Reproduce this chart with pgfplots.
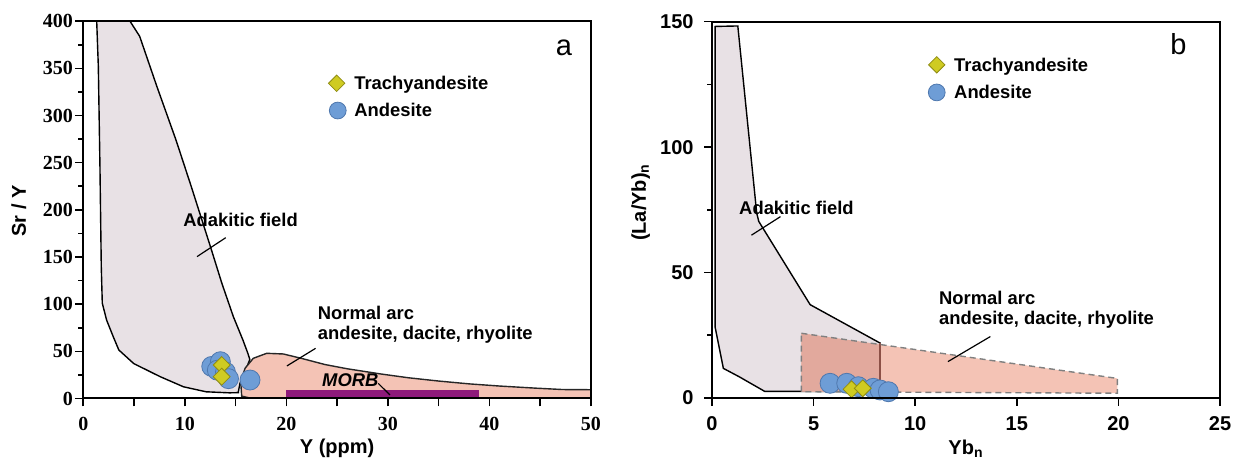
\documentclass[border=0pt]{standalone}
\usepackage{fontspec}
\setmainfont{Liberation Sans}
\newfontfamily\serifb{Liberation Serif}
\usepackage{pgfplots}
\pgfplotsset{compat=1.18}
\definecolor{adak}{HTML}{E8E1E5}
\definecolor{arc}{HTML}{F4C3B5}
\definecolor{arcdark}{HTML}{E2A99D}
\definecolor{morb}{HTML}{8E1A7B}
\definecolor{andes}{HTML}{6E9DD6}
\definecolor{andesedge}{HTML}{4F78AE}
\definecolor{trachy}{HTML}{CFCB22}
\definecolor{trachyedge}{HTML}{8F8C14}
\definecolor{brownline}{HTML}{8C5046}
\pgfplotsset{
  base/.style={
    scale only axis, anchor=south west,
    axis on top,
    axis line style={line width=1pt},
    tick style={line width=0.8pt, black},
    tick align=outside,
    major tick length=4pt, minor tick length=2.5pt,
    xtick pos=bottom, ytick pos=left,
    clip mode=individual,
    /pgf/number format/assume math mode=true,
    label style={font=\bfseries\fontsize{10}{12}\selectfont},
  },
  andpt/.style={only marks, mark=*, mark size=#1,
    mark options={fill=andes, draw=andesedge, line width=0.4pt}},
  trapt/.style={only marks, mark=square*, mark size=#1,
    mark options={rotate=45, fill=trachy, draw=trachyedge, line width=0.4pt}},
  lead/.style={black, line width=0.6pt},
}
\newcommand\lbl{\bfseries\fontsize{9.2}{10}\selectfont}
\begin{document}
\begin{tikzpicture}
\path[use as bounding box] (-41.65pt,-30.25pt) rectangle (578.85pt,199.25pt);
% ---------------- panel a ----------------
\begin{axis}[base, at={(0pt,0pt)},
  width=253.85pt, height=188.65pt,
  xmin=0, xmax=50, ymin=0, ymax=400,
  xtick={0,5,...,50}, xticklabels={0,,10,,20,,30,,40,,50},
  ytick={0,50,...,400}, minor ytick={25,75,...,375},
  ticklabel style={font=\serifb\bfseries\fontsize{10}{10}\selectfont},
  xticklabel style={anchor=north, inner sep=0pt, yshift=-5pt},
  yticklabel style={anchor=east, inner sep=0pt, xshift=-1pt},
  xlabel={Y (ppm)}, ylabel={Sr / Y},
  xlabel style={at={(rel axis cs:0.5,-0.1471)}, anchor=base},
  ylabel style={at={(rel axis cs:-0.113,0.497)}, anchor=base},
]
\addplot[fill=adak, draw=black, line width=0.7pt] coordinates {
 (1.3,415) (1.32,400) (1.48,352) (1.64,246) (1.77,140) (1.87,101) (2.3,83)
 (2.95,65.5) (3.5,51.4) (4.97,37) (7.6,23) (9.87,12.4) (12.1,7.1) (14.4,6)
 (15.27,6.2) (15.27,7.2) (15.43,16) (15.93,28.4) (16.4,41.4) (16.21,47.8)
 (15.72,62) (14.78,86.7) (13.65,122) (12.52,161) (10.63,224.8) (9.13,274)
 (7.24,331) (5.55,384) (4.6,400) (4.4,415)} -- cycle;
\addplot[fill=arc, draw=black!85, line width=0.7pt] coordinates {
 (15.6,2.5) (15.5,18) (15.93,32) (16.74,42.6) (18.06,47.9) (19.7,47.2)
 (21.5,42.5) (23.8,36) (26,31.5) (29.3,26) (32,22) (35,18.5) (38,15.5)
 (41,13.2) (44.5,11) (47.2,9.5) (50,9.3) (50,-1) (18,-1) (16.5,0.3)} -- cycle;
\addplot[fill=morb, draw=none] coordinates {(20,0) (39,0) (39,8.5) (20,8.5)} -- cycle;
\addplot[lead] coordinates {(14.03,170.5) (11.2,150.4)};
\addplot[lead] coordinates {(22.88,53.2) (20.05,34.5)};
\addplot[lead] coordinates {(29.05,16) (30.2,3.7)};
\addplot[andpt=5pt] coordinates {(12.65,34) (13.5,39) (13.2,30) (14.0,28) (14.3,21) (16.42,19.6)};
\addplot[trapt=3pt] coordinates {(13.63,35.5) (13.63,23.1)};
% legend
\addplot[trapt=2.9pt] coordinates {(24.95,334.2)};
\addplot[andpt=4.2pt] coordinates {(25.06,305.3)};
\node[anchor=base west, inner sep=0pt, font=\lbl] at (axis cs:26.65,327.9) {Trachyandesite};
\node[anchor=base west, inner sep=0pt, font=\lbl] at (axis cs:26.65,298.8) {Andesite};
% labels
\node[anchor=base west, inner sep=0pt, font=\lbl] at (axis cs:9.81,182.2) {Adakitic field};
\node[anchor=base west, inner sep=0pt, font=\lbl] at (axis cs:23.07,84) {Normal arc};
\node[anchor=base west, inner sep=0pt, font=\lbl] at (axis cs:23.07,62.8) {andesite, dacite, rhyolite};
\node[anchor=base, inner sep=0pt, font=\lbl\itshape] at (axis cs:26.3,12.5) {MORB};
\node[anchor=base, inner sep=0pt, font=\fontsize{14.5}{16}\selectfont] at (axis cs:47.34,363.2) {a};
\end{axis}
% ---------------- panel b ----------------
\begin{axis}[base, at={(314.35pt,0.25pt)},
  width=254pt, height=188.15pt,
  xmin=0, xmax=25, ymin=0, ymax=150,
  xtick={0,5,...,25},
  ytick={0,50,100,150}, minor ytick={25,75,125},
  ticklabel style={font=\bfseries\fontsize{10}{10}\selectfont},
  xticklabel style={anchor=north, inner sep=0pt, yshift=-5pt},
  yticklabel style={anchor=east, inner sep=0pt, xshift=-5pt},
  xlabel={Yb\textsubscript{n}}, ylabel={(La/Yb)\textsubscript{n}},
  xlabel style={at={(rel axis cs:0.5,-0.149)}, anchor=base},
  ylabel style={at={(rel axis cs:-0.13,0.52)}, anchor=base},
]
\addplot[fill=adak, draw=black, line width=0.7pt] coordinates {
 (0.15,148.1) (1.27,148.3) (2.2,73.7) (2.3,70.4) (4.83,37.2) (8.27,21.9)
 (8.27,2.6) (2.59,2.65) (1.33,8.5) (0.56,11.8) (0.15,28.4)} -- cycle;
\addplot[fill=arc, draw=none] coordinates {(4.4,25.8) (19.95,7.8) (19.95,1.9) (4.4,2.5)} -- cycle;
\addplot[fill=arcdark, draw=none] coordinates {(4.4,25.8) (8.27,21.3) (8.27,2.45) (4.4,2.5)} -- cycle;
\addplot[brownline, line width=0.6pt] coordinates {(8.27,21.9) (8.27,2.6)};
\addplot[draw=black!50, densely dashed, line width=0.7pt] coordinates {(4.4,25.8) (19.95,7.8) (19.95,1.9) (4.4,2.5)} -- cycle;
\addplot[lead] coordinates {(3.37,72.3) (1.94,64.9)};
\addplot[lead] coordinates {(13.7,24.5) (11.61,14.5)};
\addplot[andpt=5pt] coordinates {(5.81,5.86) (6.63,5.86) (7.2,4.5) (7.94,3.87) (8.27,3.2) (8.68,2.5)};
\addplot[trapt=3pt] coordinates {(6.87,3.47) (7.42,3.87)};
% legend
\addplot[trapt=2.9pt] coordinates {(11.06,132.8)};
\addplot[andpt=4.2pt] coordinates {(11.06,121.8)};
\node[anchor=base west, inner sep=0pt, font=\lbl] at (axis cs:11.9,130.2) {Trachyandesite};
\node[anchor=base west, inner sep=0pt, font=\lbl] at (axis cs:11.9,119.3) {Andesite};
% labels
\node[anchor=base west, inner sep=0pt, font=\lbl] at (axis cs:1.32,73.0) {Adakitic field};
\node[anchor=base west, inner sep=0pt, font=\lbl] at (axis cs:11.16,37.1) {Normal arc};
\node[anchor=base west, inner sep=0pt, font=\lbl] at (axis cs:11.16,29.1) {andesite, dacite, rhyolite};
\node[anchor=base, inner sep=0pt, font=\fontsize{14.5}{16}\selectfont] at (axis cs:22.95,136.8) {b};
\end{axis}
\end{tikzpicture}
\end{document}
